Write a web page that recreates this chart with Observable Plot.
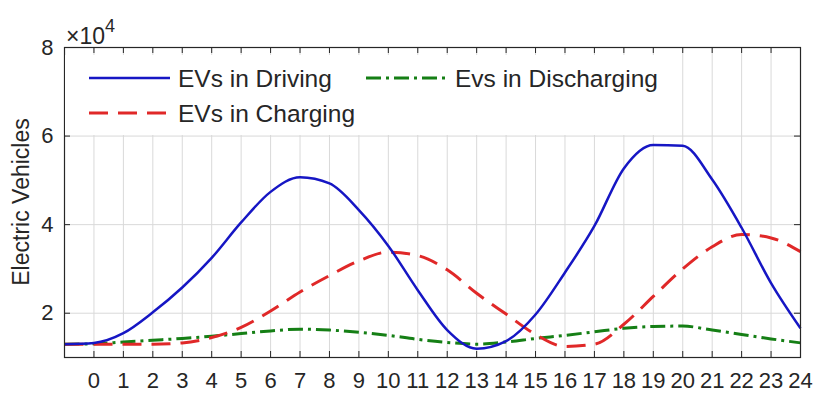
<!DOCTYPE html>
<html>
<head>
<meta charset="utf-8">
<script src="https://cdn.jsdelivr.net/npm/d3@7"></script>
<script src="https://cdn.jsdelivr.net/npm/@observablehq/plot@0.6"></script>
<style>
  html, body { margin: 0; padding: 0; background: #fff; }
  #chart { position: relative; width: 813px; height: 394px; }
  svg { font-family: "Liberation Sans", Arial, sans-serif; }
</style>
</head>
<body>
<div id="chart"></div>
<script>
// Hours (x positions) and series values, in units of 10^4 vehicles
const hours = [-1, 0, 1, 2, 3, 4, 5, 6, 7, 8, 9, 10, 11, 12, 13, 14, 15, 16, 17, 18, 19, 20, 21, 22, 23, 24];
const driving = [1.30, 1.33, 1.55, 2.02, 2.58, 3.25, 4.05, 4.74, 5.07, 4.93, 4.33, 3.52, 2.52, 1.62, 1.20, 1.37, 1.97, 2.92, 3.97, 5.27, 5.80, 5.78, 5.02, 3.93, 2.68, 1.66];
const charging = [1.30, 1.30, 1.30, 1.30, 1.33, 1.45, 1.68, 2.05, 2.48, 2.85, 3.18, 3.38, 3.30, 2.98, 2.45, 1.98, 1.52, 1.25, 1.30, 1.75, 2.38, 3.00, 3.50, 3.78, 3.70, 3.39];
const discharging = [1.30, 1.31, 1.35, 1.39, 1.43, 1.48, 1.54, 1.60, 1.64, 1.62, 1.57, 1.50, 1.41, 1.34, 1.30, 1.35, 1.43, 1.50, 1.58, 1.66, 1.70, 1.71, 1.62, 1.52, 1.42, 1.33];
const xTicks = [0, 1, 2, 3, 4, 5, 6, 7, 8, 9, 10, 11, 12, 13, 14, 15, 16, 17, 18, 19, 20, 21, 22, 23, 24];
const yTicks = [2, 4, 6, 8];
const yGrid = [2, 4, 6];
const seriesNames = ["EVs in Driving", "EVs in Charging", "Evs in Discharging"];

const W = 813, H = 394;
const mL = 64, mR = 13, mT = 47, mB = 37;
const innerW = W - mL - mR, innerH = H - mT - mB;
const ink = "#262626";
const styles = {
  "EVs in Driving": {stroke: "#1616c4", width: 2.5, dash: null},
  "EVs in Charging": {stroke: "#e02828", width: 3, dash: "19,10"},
  "Evs in Discharging": {stroke: "#157f15", width: 3, dash: "15,5,3,5"}
};

const rows = s => hours.map((h, i) => ({h, v: s[i]}));
const lineOf = (data, name) => Plot.line(rows(data), {
  x: "h", y: "v", stroke: styles[name].stroke, strokeWidth: styles[name].width,
  strokeDasharray: styles[name].dash, strokeLinejoin: "round", strokeLinecap: "butt",
  curve: "monotone-x"
});

const plot = Plot.plot({
  width: W, height: H,
  marginLeft: mL, marginRight: mR, marginTop: mT, marginBottom: mB,
  style: {fontFamily: "'Liberation Sans', Arial, sans-serif", fontSize: "22px", color: ink, background: "#fff"},
  x: {domain: [-1, 24]},
  y: {domain: [1, 8]},
  marks: [
    Plot.gridX(xTicks.slice(0, -1), {stroke: "#d9d9d9", strokeOpacity: 1, strokeWidth: 1}),
    Plot.gridY(yGrid, {stroke: "#d9d9d9", strokeOpacity: 1, strokeWidth: 1}),
    lineOf(discharging, "Evs in Discharging"),
    lineOf(charging, "EVs in Charging"),
    lineOf(driving, "EVs in Driving"),
    Plot.ruleX(xTicks, {x: d => d, stroke: ink, insetTop: innerH - 6}),
    Plot.ruleX(xTicks, {x: d => d, stroke: ink, insetBottom: innerH - 6}),
    Plot.ruleY(yTicks, {y: d => d, stroke: ink, insetRight: innerW - 6}),
    Plot.ruleY(yTicks, {y: d => d, stroke: ink, insetLeft: innerW - 6}),
    Plot.axisX(xTicks, {anchor: "bottom", tickSize: 0, tickPadding: 15, label: null, fill: ink, fontSize: 22, tickFormat: d => String(d)}),
    Plot.axisY(yTicks, {anchor: "left", tickSize: 0, tickPadding: 11, label: null, fill: ink, fontSize: 22, tickFormat: d => String(d)}),
    Plot.frame({stroke: ink, strokeWidth: 1.2})
  ]
});

document.getElementById("chart").appendChild(plot);

// Overlays: legend (white box inside the axes), exponent label and y-axis title
const svg = d3.select(plot);
const g = svg.append("g").attr("font-family", "'Liberation Sans', Arial, sans-serif")
  .attr("fill", ink).attr("text-anchor", "start");

g.append("rect").attr("x", mL + 1).attr("y", mT + 8).attr("width", 617).attr("height", 80).attr("fill", "#fff");

const legendItems = [
  {name: seriesNames[0], x: 89, y: 78},
  {name: seriesNames[1], x: 89, y: 113},
  {name: seriesNames[2], x: 366, y: 78}
];
for (const it of legendItems) {
  const st = styles[it.name];
  g.append("line").attr("x1", it.x).attr("x2", it.x + 81).attr("y1", it.y).attr("y2", it.y)
    .attr("stroke", st.stroke).attr("stroke-width", st.width)
    .attr("stroke-dasharray", st.dash);
  g.append("text").attr("x", it.x + 89).attr("y", it.y).attr("dy", "0.36em")
    .attr("text-anchor", "start").attr("font-size", 24.5).text(it.name);
}

const ex = g.append("text").attr("x", 66).attr("y", 44).attr("font-size", 23).attr("text-anchor", "start");
ex.append("tspan").text("×10");
ex.append("tspan").attr("font-size", 18).attr("dy", -12).text("4");

g.append("text").attr("transform", "translate(29,202) rotate(-90)")
  .attr("text-anchor", "middle").attr("font-size", 23).text("Electric Vehicles");
</script>
</body>
</html>
